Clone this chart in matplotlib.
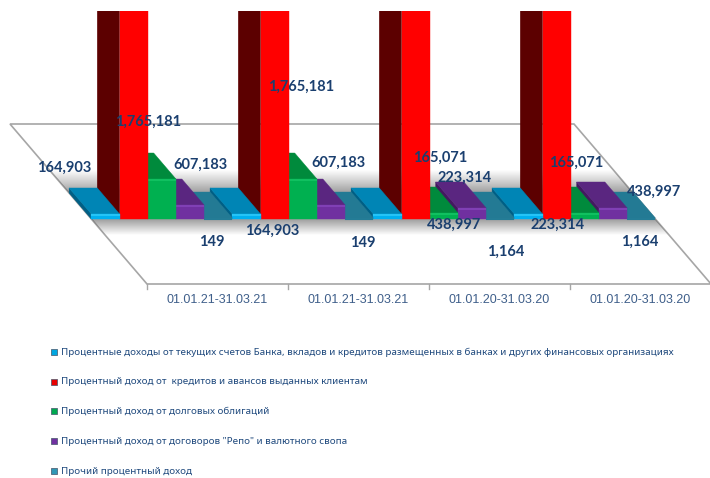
import numpy as np
import matplotlib
matplotlib.use('Agg')
import matplotlib.pyplot as plt
from matplotlib.patches import Polygon, Rectangle

groups = ['01.01.21-31.03.21', '01.01.21-31.03.21', '01.01.20-31.03.20', '01.01.20-31.03.20']
series_names = [
    'Процентные доходы от текущих счетов Банка, вкладов и кредитов размещенных в банках и других финансовых организациях',
    'Процентный доход от  кредитов и авансов выданных клиентам',
    'Процентный доход от долговых облигаций',
    'Процентный доход от договоров "Репо" и валютного свопа',
    'Прочий процентный доход',
]

# bar heights as they are drawn in the picture (they do not follow the printed labels)
current_accounts = [76000, 76000, 76000, 76000]
loans = [3400000, 3400000, 3400000, 3400000]
bonds = [607183, 607183, 91000, 91000]
repo = [212000, 212000, 167000, 167000]
other = [15000, 15000, 15000, 15000]
series = [current_accounts, loans, bonds, repo, other]

data_labels = ['164,903', '1,765,181', '607,183', '149',
               '164,903', '1,765,181', '607,183', '149',
               '165,071', '223,314', '438,997', '1,164',
               '223,314', '165,071', '438,997', '1,164']
# the labels were dragged around by hand in the original
label_xy = [(64, 168), (148, 122), (201, 165), (212, 242),
            (272, 231), (301, 87), (339, 163), (363, 243),
            (440, 158), (465, 178), (454, 225), (506, 252),
            (558, 225), (576, 163), (654, 192), (640, 242)]

front_colors = ['#00b0f0', '#ff0000', '#00b050', '#7030a0', '#247c96']
top_colors = ['#0085b5', '#ff0000', '#008a3c', '#5a2680', '#237a94']
side_colors = ['#005f85', '#5c0000', '#006b2e', '#43195f', '#1a5c70']
bevel_colors = ['#25c4f7', '#ff0000', '#10c060', '#8040b5', '#247c96']

# ---------------- layout in pixels -----------------
W, H = 710, 478
FLOOR_BACK_Y, FLOOR_FRONT_Y = 124, 284
FLOOR_BACK_X = 10
FLOOR_FRONT_X = 147
GROUP_W = 141.0
SHEAR = (FLOOR_FRONT_X - FLOOR_BACK_X) / (FLOOR_FRONT_Y - FLOOR_BACK_Y)
BAR_FRONT_Y = 219
BAR_DEPTH = 26
PER_PIXEL = 15180.0
TOP_CLIP = 11


def project(slot, depth, value):
    # slot in groups along the axis, depth 0 = front of bar, 1 = back of bar
    y = BAR_FRONT_Y - depth * BAR_DEPTH
    x = FLOOR_FRONT_X + slot * GROUP_W - (FLOOR_FRONT_Y - y) * SHEAR
    return x, y - value / PER_PIXEL


def draw_bar(ax, slot0, slot1, value, i, clip):
    faces = [
        ([(slot0, 0, 0), (slot0, 1, 0), (slot0, 1, value), (slot0, 0, value)], side_colors[i]),
        ([(slot0, 1, value), (slot1, 1, value), (slot1, 0, value), (slot0, 0, value)], top_colors[i]),
        ([(slot0, 0, 0), (slot1, 0, 0), (slot1, 0, value), (slot0, 0, value)], front_colors[i]),
    ]
    for pts, color in faces:
        p = Polygon([project(*pt) for pt in pts], closed=True, fc=color, ec=color, lw=0.3, zorder=2)
        ax.add_patch(p)
        p.set_clip_path(clip)
    x0, y0 = project(slot0, 0, value)
    x1, _ = project(slot1, 0, value)
    bevel, = ax.plot([x0, x1], [y0 + 1, y0 + 1], color=bevel_colors[i], lw=1.5,
                     solid_capstyle='butt', zorder=2)
    bevel.set_clip_path(clip)


fig = plt.figure(figsize=(W / 100, H / 100), dpi=100)
ax = fig.add_axes([0, 0, 1, 1])

# ---------------- floor with the soft shadow -----------------
floor_pts = [(FLOOR_BACK_X, FLOOR_BACK_Y), (FLOOR_BACK_X + 4 * GROUP_W, FLOOR_BACK_Y),
             (FLOOR_FRONT_X + 4 * GROUP_W, FLOOR_FRONT_Y), (FLOOR_FRONT_X, FLOOR_FRONT_Y)]
floor = Polygon(floor_pts, closed=True, fc='white', ec='#a6a6a6', lw=1.2, zorder=1)
ax.add_patch(floor)

rows = np.arange(H) + 0.5
alpha = np.interp(rows, [170, 191, 219, 235], [0, 0.5, 0.55, 0])
shade = np.zeros((H, 1, 4))
shade[:, 0, :3] = 0.3
shade[:, 0, 3] = alpha
im = ax.imshow(shade, extent=(0, W, H, 0), aspect='auto', zorder=1.5)
im.set_clip_path(Polygon(floor_pts, closed=True, transform=ax.transData))

for k in range(5):
    x = FLOOR_FRONT_X + k * GROUP_W
    ax.plot([x, x], [FLOOR_FRONT_Y, FLOOR_FRONT_Y + 5], color='#a6a6a6', lw=1, zorder=1)

# ---------------- bars, right to left so the nearer faces cover the sides -----------------
clip_box = Rectangle((0, TOP_CLIP), W, H, transform=ax.transData)
for g in range(len(groups) - 1, -1, -1):
    for i in range(len(series) - 1, -1, -1):
        draw_bar(ax, g + i / 5, g + (i + 1) / 5, series[i][g], i, clip_box)

# ---------------- text -----------------
for txt, (x, y) in zip(data_labels, label_xy):
    ax.text(x, y, txt, ha='center', va='center', fontsize=10.5, fontweight='bold',
            family='Lato', color='#1a3f6f', zorder=5)

for k, name in enumerate(groups):
    ax.text(FLOOR_FRONT_X + (k + 0.5) * GROUP_W, 300, name, ha='center', va='center',
            fontsize=9, family='Liberation Sans', color='#3f5f8a')

legend_y = [352, 382, 411, 441, 471]
legend_colors = ['#00a6e0', '#e80000', '#00a850', '#7030a0', '#2f97b5']
for y, name, color in zip(legend_y, series_names, legend_colors):
    ax.scatter([54], [y], marker='s', s=18, c=color, edgecolors='#44546a', linewidths=0.5)
    ax.text(61, y, name, ha='left', va='center', fontsize=7.05, family='Noto Sans', color='#1f497d')

ax.set_xlim(0, W)
ax.set_ylim(H, 0)
ax.axis('off')
fig.savefig('out.png', dpi=100)
